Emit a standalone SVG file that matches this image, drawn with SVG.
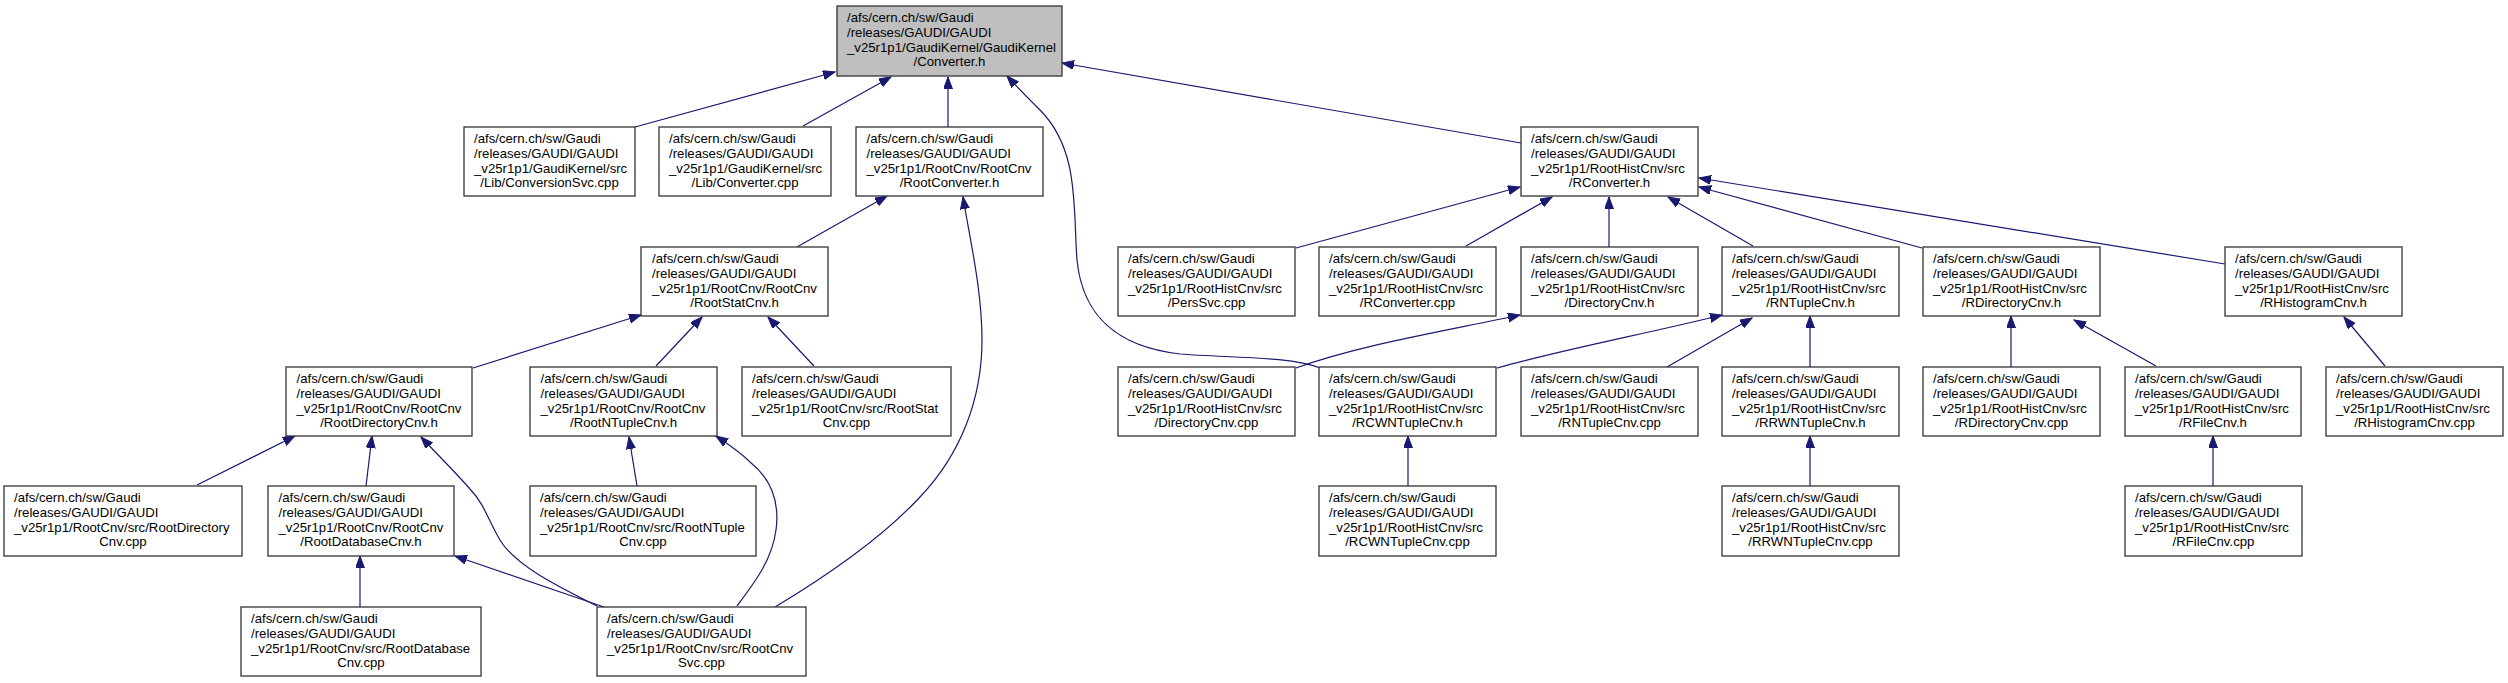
<svg xmlns="http://www.w3.org/2000/svg" width="2508" height="683" viewBox="0 0 2508 683">
<style>
.n rect{fill:#ffffff;stroke:#333333;stroke-width:1.3}
.n.m rect{fill:#bfbfbf}
.n text{font-family:"Liberation Sans",Arial,Helvetica,sans-serif;font-size:13.2px;fill:#000000}
.n text.c{text-anchor:middle}
#edges path{fill:none;stroke:#191970;stroke-width:1.2;marker-end:url(#ah)}
</style>
<defs>
<marker id="ah" markerUnits="userSpaceOnUse" markerWidth="13" markerHeight="10" refX="12" refY="4.5" orient="auto">
<path d="M0,0 L12,4.5 L0,9 z" fill="#191970" stroke="#191970" stroke-width="1"/>
</marker>
</defs>
<rect width="2508" height="683" fill="#ffffff"/>
<g id="edges">
<path d="M635,127 L835,72"/>
<path d="M803,126 L891,77"/>
<path d="M948,127 L948,77"/>
<path d="M1320,368 C1290,356 1230,358 1180,354 C1110,346 1082,310 1077,260 C1073,210 1080,150 1040,110 C1030,100 1018,88 1007,76"/>
<path d="M1521,143 L1062,63"/>
<path d="M797,247 L887,196"/>
<path d="M775,607 C820,580 880,540 920,497 C960,455 982,400 982,340 C982,290 970,240 963,197"/>
<path d="M1296,248 L1520,187"/>
<path d="M1466,246 L1552,197"/>
<path d="M1609,247 L1609,197"/>
<path d="M1753,246 L1668,197"/>
<path d="M1922,248 L1699,187"/>
<path d="M2225,264 L1699,178"/>
<path d="M473,368 L641,315"/>
<path d="M656,366 L702,317"/>
<path d="M814,366 L768,317"/>
<path d="M1296,368 C1360,345 1440,332 1520,315"/>
<path d="M1497,368 C1560,350 1650,333 1722,315"/>
<path d="M1667,367 L1752,318"/>
<path d="M1810,367 L1810,316"/>
<path d="M2011,367 L2011,316"/>
<path d="M2156,366 L2074,320"/>
<path d="M2385,366 L2344,317"/>
<path d="M197,485 L295,436"/>
<path d="M366,486 L372,436"/>
<path d="M597,606 C555,585 515,565 500,540 C488,520 485,505 470,489 C455,472 435,452 421,437"/>
<path d="M637,486 L629,437"/>
<path d="M737,606 C755,582 772,560 776,530 C780,500 770,478 750,462 C740,452 728,444 716,436"/>
<path d="M1408,486 L1408,436"/>
<path d="M1810,486 L1810,436"/>
<path d="M2213,486 L2213,436"/>
<path d="M360,607 L360,556"/>
<path d="M604,607 L455,556"/>
</g>
<g id="node_main" class="n m"><rect x="837" y="6" width="225" height="70"/><text x="847" y="22.3">/afs/cern.ch/sw/Gaudi</text><text x="847" y="37">/releases/GAUDI/GAUDI</text><text x="847" y="51.7">_v25r1p1/GaudiKernel/GaudiKernel</text><text class="c" x="949.5" y="66.4">/Converter.h</text></g>
<g id="node_conversionsvc_cpp" class="n"><rect x="464" y="127" width="171" height="69"/><text x="474" y="143.3">/afs/cern.ch/sw/Gaudi</text><text x="474" y="158">/releases/GAUDI/GAUDI</text><text x="474" y="172.7">_v25r1p1/GaudiKernel/src</text><text class="c" x="549.5" y="187.4">/Lib/ConversionSvc.cpp</text></g>
<g id="node_converter_cpp" class="n"><rect x="659" y="127" width="172" height="69"/><text x="669" y="143.3">/afs/cern.ch/sw/Gaudi</text><text x="669" y="158">/releases/GAUDI/GAUDI</text><text x="669" y="172.7">_v25r1p1/GaudiKernel/src</text><text class="c" x="745" y="187.4">/Lib/Converter.cpp</text></g>
<g id="node_rootconverter_h" class="n"><rect x="856" y="127" width="187" height="69"/><text x="866.5" y="143.3">/afs/cern.ch/sw/Gaudi</text><text x="866.5" y="158">/releases/GAUDI/GAUDI</text><text x="866.5" y="172.7">_v25r1p1/RootCnv/RootCnv</text><text class="c" x="949.5" y="187.4">/RootConverter.h</text></g>
<g id="node_rconverter_h" class="n"><rect x="1521" y="127" width="177" height="69"/><text x="1531" y="143.3">/afs/cern.ch/sw/Gaudi</text><text x="1531" y="158">/releases/GAUDI/GAUDI</text><text x="1531" y="172.7">_v25r1p1/RootHistCnv/src</text><text class="c" x="1609.5" y="187.4">/RConverter.h</text></g>
<g id="node_rootstatcnv_h" class="n"><rect x="641" y="247" width="187" height="69"/><text x="652" y="263.3">/afs/cern.ch/sw/Gaudi</text><text x="652" y="278">/releases/GAUDI/GAUDI</text><text x="652" y="292.7">_v25r1p1/RootCnv/RootCnv</text><text class="c" x="734.5" y="307.4">/RootStatCnv.h</text></g>
<g id="node_perssvc_cpp" class="n"><rect x="1118" y="247" width="177" height="69"/><text x="1128" y="263.3">/afs/cern.ch/sw/Gaudi</text><text x="1128" y="278">/releases/GAUDI/GAUDI</text><text x="1128" y="292.7">_v25r1p1/RootHistCnv/src</text><text class="c" x="1206.5" y="307.4">/PersSvc.cpp</text></g>
<g id="node_rconverter_cpp" class="n"><rect x="1319" y="247" width="177" height="69"/><text x="1329" y="263.3">/afs/cern.ch/sw/Gaudi</text><text x="1329" y="278">/releases/GAUDI/GAUDI</text><text x="1329" y="292.7">_v25r1p1/RootHistCnv/src</text><text class="c" x="1407.5" y="307.4">/RConverter.cpp</text></g>
<g id="node_directorycnv_h" class="n"><rect x="1521" y="247" width="177" height="69"/><text x="1531" y="263.3">/afs/cern.ch/sw/Gaudi</text><text x="1531" y="278">/releases/GAUDI/GAUDI</text><text x="1531" y="292.7">_v25r1p1/RootHistCnv/src</text><text class="c" x="1609.5" y="307.4">/DirectoryCnv.h</text></g>
<g id="node_rntuplecnv_h" class="n"><rect x="1722" y="247" width="177" height="69"/><text x="1732" y="263.3">/afs/cern.ch/sw/Gaudi</text><text x="1732" y="278">/releases/GAUDI/GAUDI</text><text x="1732" y="292.7">_v25r1p1/RootHistCnv/src</text><text class="c" x="1810.5" y="307.4">/RNTupleCnv.h</text></g>
<g id="node_rdirectorycnv_h" class="n"><rect x="1923" y="247" width="177" height="69"/><text x="1933" y="263.3">/afs/cern.ch/sw/Gaudi</text><text x="1933" y="278">/releases/GAUDI/GAUDI</text><text x="1933" y="292.7">_v25r1p1/RootHistCnv/src</text><text class="c" x="2011.5" y="307.4">/RDirectoryCnv.h</text></g>
<g id="node_rhistogramcnv_h" class="n"><rect x="2225" y="247" width="177" height="69"/><text x="2235" y="263.3">/afs/cern.ch/sw/Gaudi</text><text x="2235" y="278">/releases/GAUDI/GAUDI</text><text x="2235" y="292.7">_v25r1p1/RootHistCnv/src</text><text class="c" x="2313.5" y="307.4">/RHistogramCnv.h</text></g>
<g id="node_rootdirectorycnv_h" class="n"><rect x="286" y="367" width="186" height="69"/><text x="296.5" y="383.3">/afs/cern.ch/sw/Gaudi</text><text x="296.5" y="398">/releases/GAUDI/GAUDI</text><text x="296.5" y="412.7">_v25r1p1/RootCnv/RootCnv</text><text class="c" x="379" y="427.4">/RootDirectoryCnv.h</text></g>
<g id="node_rootntuplecnv_h" class="n"><rect x="530" y="367" width="187" height="69"/><text x="540.5" y="383.3">/afs/cern.ch/sw/Gaudi</text><text x="540.5" y="398">/releases/GAUDI/GAUDI</text><text x="540.5" y="412.7">_v25r1p1/RootCnv/RootCnv</text><text class="c" x="623.5" y="427.4">/RootNTupleCnv.h</text></g>
<g id="node_rootstatcnv_cpp" class="n"><rect x="742" y="367" width="209" height="69"/><text x="752" y="383.3">/afs/cern.ch/sw/Gaudi</text><text x="752" y="398">/releases/GAUDI/GAUDI</text><text x="752" y="412.7">_v25r1p1/RootCnv/src/RootStat</text><text class="c" x="846.5" y="427.4">Cnv.cpp</text></g>
<g id="node_directorycnv_cpp" class="n"><rect x="1118" y="367" width="177" height="69"/><text x="1128" y="383.3">/afs/cern.ch/sw/Gaudi</text><text x="1128" y="398">/releases/GAUDI/GAUDI</text><text x="1128" y="412.7">_v25r1p1/RootHistCnv/src</text><text class="c" x="1206.5" y="427.4">/DirectoryCnv.cpp</text></g>
<g id="node_rcwntuplecnv_h" class="n"><rect x="1319" y="367" width="177" height="69"/><text x="1329" y="383.3">/afs/cern.ch/sw/Gaudi</text><text x="1329" y="398">/releases/GAUDI/GAUDI</text><text x="1329" y="412.7">_v25r1p1/RootHistCnv/src</text><text class="c" x="1407.5" y="427.4">/RCWNTupleCnv.h</text></g>
<g id="node_rntuplecnv_cpp" class="n"><rect x="1521" y="367" width="177" height="69"/><text x="1531" y="383.3">/afs/cern.ch/sw/Gaudi</text><text x="1531" y="398">/releases/GAUDI/GAUDI</text><text x="1531" y="412.7">_v25r1p1/RootHistCnv/src</text><text class="c" x="1609.5" y="427.4">/RNTupleCnv.cpp</text></g>
<g id="node_rrwntuplecnv_h" class="n"><rect x="1722" y="367" width="177" height="69"/><text x="1732" y="383.3">/afs/cern.ch/sw/Gaudi</text><text x="1732" y="398">/releases/GAUDI/GAUDI</text><text x="1732" y="412.7">_v25r1p1/RootHistCnv/src</text><text class="c" x="1810.5" y="427.4">/RRWNTupleCnv.h</text></g>
<g id="node_rdirectorycnv_cpp" class="n"><rect x="1923" y="367" width="177" height="69"/><text x="1933" y="383.3">/afs/cern.ch/sw/Gaudi</text><text x="1933" y="398">/releases/GAUDI/GAUDI</text><text x="1933" y="412.7">_v25r1p1/RootHistCnv/src</text><text class="c" x="2011.5" y="427.4">/RDirectoryCnv.cpp</text></g>
<g id="node_rfilecnv_h" class="n"><rect x="2125" y="367" width="176" height="69"/><text x="2135" y="383.3">/afs/cern.ch/sw/Gaudi</text><text x="2135" y="398">/releases/GAUDI/GAUDI</text><text x="2135" y="412.7">_v25r1p1/RootHistCnv/src</text><text class="c" x="2213" y="427.4">/RFileCnv.h</text></g>
<g id="node_rhistogramcnv_cpp" class="n"><rect x="2326" y="367" width="177" height="69"/><text x="2336" y="383.3">/afs/cern.ch/sw/Gaudi</text><text x="2336" y="398">/releases/GAUDI/GAUDI</text><text x="2336" y="412.7">_v25r1p1/RootHistCnv/src</text><text class="c" x="2414.5" y="427.4">/RHistogramCnv.cpp</text></g>
<g id="node_rootdirectorycnv_cpp" class="n"><rect x="4" y="486" width="238" height="70"/><text x="14" y="502.3">/afs/cern.ch/sw/Gaudi</text><text x="14" y="517">/releases/GAUDI/GAUDI</text><text x="14" y="531.7">_v25r1p1/RootCnv/src/RootDirectory</text><text class="c" x="123" y="546.4">Cnv.cpp</text></g>
<g id="node_rootdatabasecnv_h" class="n"><rect x="268" y="486" width="186" height="70"/><text x="278.5" y="502.3">/afs/cern.ch/sw/Gaudi</text><text x="278.5" y="517">/releases/GAUDI/GAUDI</text><text x="278.5" y="531.7">_v25r1p1/RootCnv/RootCnv</text><text class="c" x="361" y="546.4">/RootDatabaseCnv.h</text></g>
<g id="node_rootntuplecnv_cpp" class="n"><rect x="530" y="486" width="226" height="70"/><text x="540" y="502.3">/afs/cern.ch/sw/Gaudi</text><text x="540" y="517">/releases/GAUDI/GAUDI</text><text x="540" y="531.7">_v25r1p1/RootCnv/src/RootNTuple</text><text class="c" x="643" y="546.4">Cnv.cpp</text></g>
<g id="node_rcwntuplecnv_cpp" class="n"><rect x="1319" y="486" width="177" height="70"/><text x="1329" y="502.3">/afs/cern.ch/sw/Gaudi</text><text x="1329" y="517">/releases/GAUDI/GAUDI</text><text x="1329" y="531.7">_v25r1p1/RootHistCnv/src</text><text class="c" x="1407.5" y="546.4">/RCWNTupleCnv.cpp</text></g>
<g id="node_rrwntuplecnv_cpp" class="n"><rect x="1722" y="486" width="177" height="70"/><text x="1732" y="502.3">/afs/cern.ch/sw/Gaudi</text><text x="1732" y="517">/releases/GAUDI/GAUDI</text><text x="1732" y="531.7">_v25r1p1/RootHistCnv/src</text><text class="c" x="1810.5" y="546.4">/RRWNTupleCnv.cpp</text></g>
<g id="node_rfilecnv_cpp" class="n"><rect x="2125" y="486" width="177" height="70"/><text x="2135" y="502.3">/afs/cern.ch/sw/Gaudi</text><text x="2135" y="517">/releases/GAUDI/GAUDI</text><text x="2135" y="531.7">_v25r1p1/RootHistCnv/src</text><text class="c" x="2213.5" y="546.4">/RFileCnv.cpp</text></g>
<g id="node_rootdatabasecnv_cpp" class="n"><rect x="241" y="607" width="240" height="69"/><text x="251" y="623.3">/afs/cern.ch/sw/Gaudi</text><text x="251" y="638">/releases/GAUDI/GAUDI</text><text x="251" y="652.7">_v25r1p1/RootCnv/src/RootDatabase</text><text class="c" x="361" y="667.4">Cnv.cpp</text></g>
<g id="node_rootcnvsvc_cpp" class="n"><rect x="597" y="607" width="209" height="69"/><text x="607" y="623.3">/afs/cern.ch/sw/Gaudi</text><text x="607" y="638">/releases/GAUDI/GAUDI</text><text x="607" y="652.7">_v25r1p1/RootCnv/src/RootCnv</text><text class="c" x="701.5" y="667.4">Svc.cpp</text></g>
</svg>
